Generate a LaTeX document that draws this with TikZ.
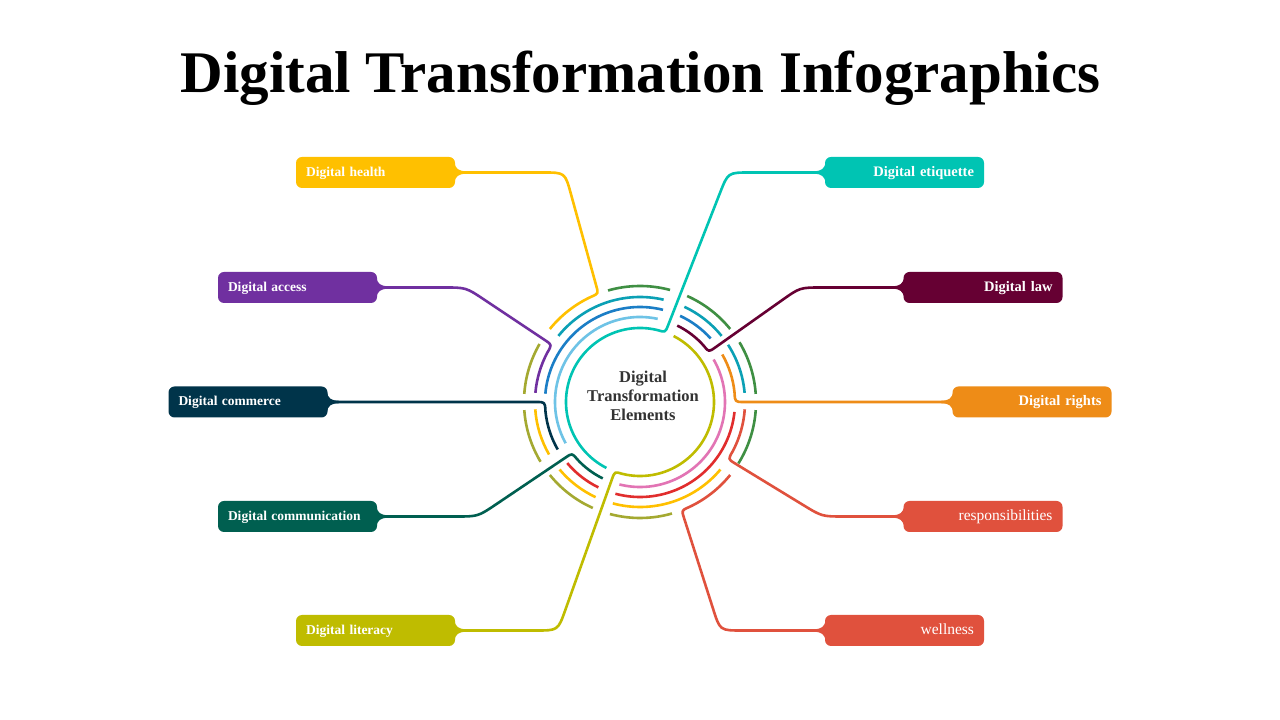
\documentclass[tikz,border=0pt]{standalone}
\usepackage{fontspec}
\setmainfont{Liberation Serif}
\usetikzlibrary{calc}
\definecolor{cHealth}{HTML}{FFC000}
\definecolor{cEtiq}{HTML}{00C4B3}
\definecolor{cAccess}{HTML}{7030A0}
\definecolor{cLaw}{HTML}{660033}
\definecolor{cCommerce}{HTML}{00344A}
\definecolor{cRights}{HTML}{EE8C17}
\definecolor{cComm}{HTML}{005F50}
\definecolor{cResp}{HTML}{E0513D}
\definecolor{cLit}{HTML}{BFBC00}
\definecolor{cWell}{HTML}{E0513D}
\definecolor{cGreen}{HTML}{3F8F43}
\definecolor{cTeal}{HTML}{0BA0B5}
\definecolor{cBlue}{HTML}{1B7EC6}
\definecolor{cSky}{HTML}{6EC3E6}
\definecolor{cOlive}{HTML}{A4A931}
\definecolor{cRed}{HTML}{E12D2D}
\definecolor{cPink}{HTML}{E274B4}
\definecolor{cText}{HTML}{333333}
\newcommand\ringarc[4]{\draw[ringline,#1] ($(C)+(#3:#2)$) arc[start angle=#3,end angle=#4,radius=#2];}
\begin{document}
\begin{tikzpicture}[x=1pt,y=1pt,
  ringline/.style={line width=2.6, line cap=butt},
  conn/.style={line width=2.6, line join=round, line cap=butt},
  lbl/.style={rounded corners=6, minimum height=31, inner xsep=10, inner ysep=3,
    text width=139, text height=10, text depth=2.5, text=white},
  leftlbl/.style={lbl, align=left, font=\fontsize{13.5}{16}\selectfont\bfseries},
  rightlbl/.style={lbl, align=right, font=\fontsize{14.5}{17}\selectfont\bfseries},
  rightreg/.style={lbl, align=right, font=\fontsize{15.5}{18}\selectfont},
  neck/.pic={\fill[pic actions] (-1,10) .. controls (0.5,4) and (3,1.3) .. (11,1.3) -- (11,-1.3) .. controls (3,-1.3) and (0.5,-4) .. (-1,-10) -- cycle;}
]
\useasboundingbox (0,0) rectangle (1280,720);
\fill[white] (0,0) rectangle (1280,720);
\coordinate (C) at (640,318);

% title
\node[font=\fontsize{59}{70}\selectfont\bfseries, anchor=base] (title) at (640.5,627) {Digital Transformation Infographics};

% decorative ring arcs
\ringarc{cGreen}{116}{75}{106}
\ringarc{cOlive}{116}{150}{176}
\ringarc{cOlive}{116}{184}{211}
\ringarc{cOlive}{116}{219}{246}
\ringarc{cOlive}{116}{255}{286}
\ringarc{cGreen}{116}{328}{356}
\ringarc{cGreen}{116}{4}{31}
\ringarc{cGreen}{116}{39}{66}
\ringarc{cTeal}{105}{77}{141}
\ringarc{cHealth}{105}{184}{210}
\ringarc{cHealth}{105}{220}{245}
\ringarc{cHealth}{105}{255}{320}
\ringarc{cTeal}{105}{5}{33}
\ringarc{cTeal}{105}{39}{65}
\ringarc{cBlue}{95}{76}{175}
\ringarc{cRed}{95}{220}{244}
\ringarc{cRed}{95}{255}{354}
\ringarc{cBlue}{95}{42}{65}
\ringarc{cSky}{85}{78}{209}
\ringarc{cPink}{85}{256}{390}

% label boxes
\node[leftlbl, fill=cHealth] (health) at (375.5,547.5) {Digital health};
\node[leftlbl, fill=cAccess] (access) at (297.5,432.5) {Digital access};
\node[leftlbl, fill=cCommerce] (commerce) at (248,318) {Digital commerce};
\node[leftlbl, fill=cComm] (comm) at (297.5,203.5) {Digital communication};
\node[leftlbl, fill=cLit] (literacy) at (375.5,89.5) {Digital literacy};
\node[rightlbl, fill=cEtiq] (etiq) at (904.5,547.5) {Digital etiquette};
\node[rightlbl, fill=cLaw] (law) at (983,432.5) {Digital law};
\node[rightlbl, fill=cRights] (rights) at (1032,318) {Digital rights};
\node[rightreg, fill=cResp] (resp) at (983,203.5) {responsibilities};
\node[rightreg, fill=cWell] (well) at (904.5,89.5) {wellness};

\pic[fill=cHealth] at (health.east) {neck};
\pic[fill=cAccess] at (access.east) {neck};
\pic[fill=cCommerce] at (commerce.east) {neck};
\pic[fill=cComm] at (comm.east) {neck};
\pic[fill=cLit] at (literacy.east) {neck};
\pic[fill=cEtiq, xscale=-1] at (etiq.west) {neck};
\pic[fill=cLaw, xscale=-1] at (law.west) {neck};
\pic[fill=cRights, xscale=-1] at (rights.west) {neck};
\pic[fill=cResp, xscale=-1] at (resp.west) {neck};
\pic[fill=cWell, xscale=-1] at (well.west) {neck};

% corner coordinates
\coordinate (hH) at (565,547.5);   \coordinate (kH) at ($(C)+(111:116)$);
\coordinate (hA) at (466,432.5);   \coordinate (kA) at ($(C)+(147:105)$);
\coordinate (kCo) at ($(C)+(180:95)$);
\coordinate (hCm) at (478,203.5);  \coordinate (kCm) at ($(C)+(217:85)$);
\coordinate (hL) at (558,89.5);    \coordinate (kL) at ($(C)+(250:74)$);
\coordinate (hE) at (728,547.5);   \coordinate (kE) at ($(C)+(70:74)$);
\coordinate (hLw) at (800,432.5);  \coordinate (kLw) at ($(C)+(36:85)$);
\coordinate (kR) at ($(C)+(0:95)$);
\coordinate (hRs) at (822,203.5);  \coordinate (kRs) at ($(C)+(-33:105)$);
\coordinate (hW) at (720,89.5);    \coordinate (kW) at ($(C)+(-69:116)$);

% connectors
\draw[conn,cHealth] (health.east) -- ($(hH)!22pt!(health.east)$) .. controls (hH) .. ($(hH)!22pt!(kH)$)
  -- ($(kH)!8pt!(hH)$) .. controls (kH) .. ($(C)+(115:116)$) arc[start angle=115,end angle=141,radius=116];
\draw[conn,cAccess] (access.east) -- ($(hA)!22pt!(access.east)$) .. controls (hA) .. ($(hA)!22pt!(kA)$)
  -- ($(kA)!8pt!(hA)$) .. controls (kA) .. ($(C)+(152:105)$) arc[start angle=152,end angle=175,radius=105];
\draw[conn,cCommerce] (commerce.east) -- ($(kCo)!9pt!(commerce.east)$) .. controls (kCo) .. ($(C)+(185.5:95)$) arc[start angle=185.5,end angle=210,radius=95];
\draw[conn,cComm] (comm.east) -- ($(hCm)!22pt!(comm.east)$) .. controls (hCm) .. ($(hCm)!22pt!(kCm)$)
  -- ($(kCm)!8pt!(hCm)$) .. controls (kCm) .. ($(C)+(222:85)$) arc[start angle=222,end angle=244,radius=85];
\draw[conn,cLit] (literacy.east) -- ($(hL)!22pt!(literacy.east)$) .. controls (hL) .. ($(hL)!22pt!(kL)$)
  -- ($(kL)!8pt!(hL)$) .. controls (kL) .. ($(C)+(256:74)$) arc[start angle=256,end angle=423,radius=74];
\draw[conn,cEtiq] (etiq.west) -- ($(hE)!22pt!(etiq.west)$) .. controls (hE) .. ($(hE)!22pt!(kE)$)
  -- ($(kE)!8pt!(hE)$) .. controls (kE) .. ($(C)+(76:74)$) arc[start angle=76,end angle=243,radius=74];
\draw[conn,cLaw] (law.west) -- ($(hLw)!22pt!(law.west)$) .. controls (hLw) .. ($(hLw)!22pt!(kLw)$)
  -- ($(kLw)!8pt!(hLw)$) .. controls (kLw) .. ($(C)+(41:85)$) arc[start angle=41,end angle=64,radius=85];
\draw[conn,cRights] (rights.west) -- ($(kR)!9pt!(rights.west)$) .. controls (kR) .. ($(C)+(5.5:95)$) arc[start angle=5.5,end angle=30,radius=95];
\draw[conn,cResp] (resp.west) -- ($(hRs)!22pt!(resp.west)$) .. controls (hRs) .. ($(hRs)!22pt!(kRs)$)
  -- ($(kRs)!8pt!(hRs)$) .. controls (kRs) .. ($(C)+(-28:105)$) arc[start angle=-28,end angle=-4,radius=105];
\draw[conn,cWell] (well.west) -- ($(hW)!22pt!(well.west)$) .. controls (hW) .. ($(hW)!22pt!(kW)$)
  -- ($(kW)!8pt!(hW)$) .. controls (kW) .. ($(C)+(-65:116)$) arc[start angle=-65,end angle=-39,radius=116];

% centre text
\node[align=center, font=\fontsize{16.5}{19}\selectfont\bfseries, text=cText] (centre) at (643,324) {Digital\\Transformation\\Elements};
\end{tikzpicture}
\end{document}
